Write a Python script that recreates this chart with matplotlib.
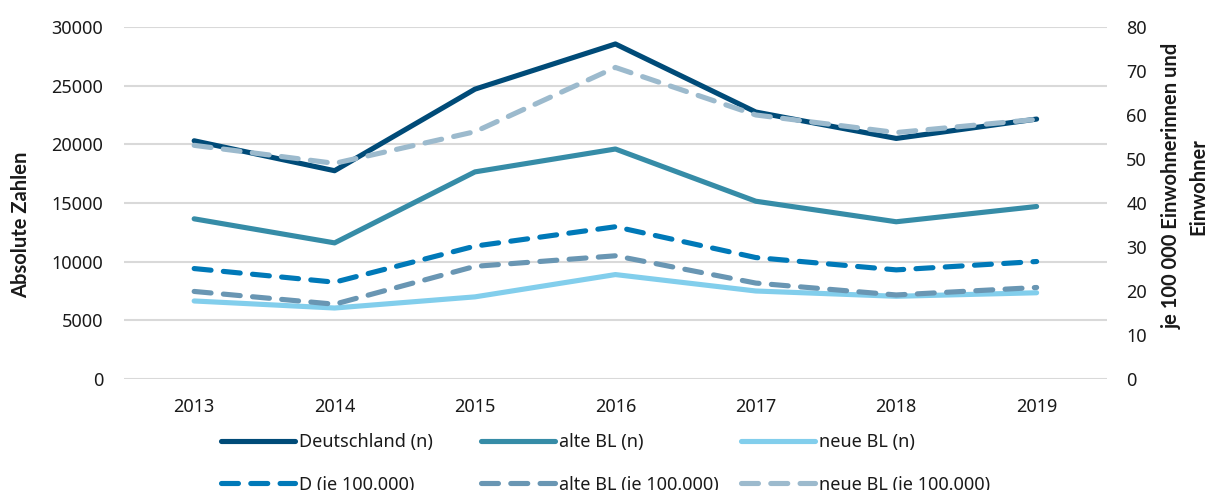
import matplotlib
matplotlib.use('Agg')
import matplotlib.pyplot as plt

plt.rcParams['font.family'] = ['Noto Sans', 'DejaVu Sans']
plt.rcParams['text.color'] = '#1a1a1a'

years = ['2013', '2014', '2015', '2016', '2017', '2018', '2019']

# absolute Zahlen (linke Achse)
deutschland_n = [20300, 17750, 24700, 28550, 22750, 20500, 22150]
alte_bl_n = [13650, 11600, 17650, 19600, 15150, 13400, 14700]
neue_bl_n = [6650, 6050, 7000, 8900, 7500, 7050, 7350]

# je 100.000 (rechte Achse)
d_je = [25.1, 22.0, 30.2, 34.6, 27.6, 24.8, 26.7]
alte_bl_je = [19.9, 17.0, 25.6, 28.0, 21.8, 19.1, 20.8]
neue_bl_je = [53.1, 49.0, 56.2, 70.8, 60.0, 56.0, 59.0]

left_ticks = [0, 5000, 10000, 15000, 20000, 25000, 30000]
right_ticks = [0, 10, 20, 30, 40, 50, 60, 70, 80]

c_de = '#004b78'
c_alt = '#368ca7'
c_neu = '#82ceec'
c_de_je = '#0079b8'
c_alt_je = '#6996b3'
c_neu_je = '#9cbacd'

fig = plt.figure(figsize=(12.07, 4.90), dpi=100)
ax = fig.add_axes([0.1027, 0.2265, 0.8143, 0.7185])
ax2 = ax.twinx()

x = list(range(len(years)))
lw = 3.7
dash = (3.3, 2.4)

h1, = ax.plot(x, deutschland_n, color=c_de, lw=lw, solid_capstyle='round', label='Deutschland (n)')
h2, = ax.plot(x, alte_bl_n, color=c_alt, lw=lw, solid_capstyle='round', label='alte BL (n)')
h3, = ax.plot(x, neue_bl_n, color=c_neu, lw=lw, solid_capstyle='round', label='neue BL (n)')

h4, = ax2.plot(x, d_je, color=c_de_je, lw=lw, dashes=dash, dash_capstyle='round', label='D (je 100.000)')
h5, = ax2.plot(x, alte_bl_je, color=c_alt_je, lw=lw, dashes=dash, dash_capstyle='round', label='alte BL (je 100.000)')
h6, = ax2.plot(x, neue_bl_je, color=c_neu_je, lw=lw, dashes=dash, dash_capstyle='round', label='neue BL (je 100.000)')

ax.set_xlim(-0.5, len(years) - 0.5)
ax.set_ylim(0, 30000)
ax2.set_ylim(0, 80)
ax.set_xticks(x)
ax.set_xticklabels(years)
ax.set_yticks(left_ticks)
ax2.set_yticks(right_ticks)

ax.grid(axis='y', color='#d9d9d9', lw=1.5)
ax.set_axisbelow(True)
for a in (ax, ax2):
    for s in a.spines.values():
        s.set_visible(False)
    a.tick_params(length=0, labelsize=13, colors='#1a1a1a')
ax.tick_params(axis='y', pad=15)
ax.tick_params(axis='x', pad=14)
ax2.tick_params(axis='y', pad=14)

bold = ['Lato', 'DejaVu Sans']
fig.text(0.0174, 0.541, 'Absolute Zahlen', rotation=90, ha='center', va='center',
         fontsize=14.5, fontweight='bold', family=bold)
fig.text(0.982, 0.620, 'je 100 000 Einwohnerinnen und\nEinwohner', rotation=90,
         ha='center', va='center', multialignment='center', fontsize=14.5,
         fontweight='bold', linespacing=1.45, family=bold)

cols = [(h1, h4), (h2, h5), (h3, h6)]
xs = [0.183, 0.3985, 0.614]
for (ha, hb), xpos in zip(cols, xs):
    leg = fig.legend([ha, hb], [ha.get_label(), hb.get_label()], loc='center left',
                     bbox_to_anchor=(xpos, 0.054), frameon=False, fontsize=13,
                     borderpad=0, borderaxespad=0, handlelength=4.1, handletextpad=0.2,
                     labelspacing=1.35)

fig.savefig('out.png', dpi=100)
